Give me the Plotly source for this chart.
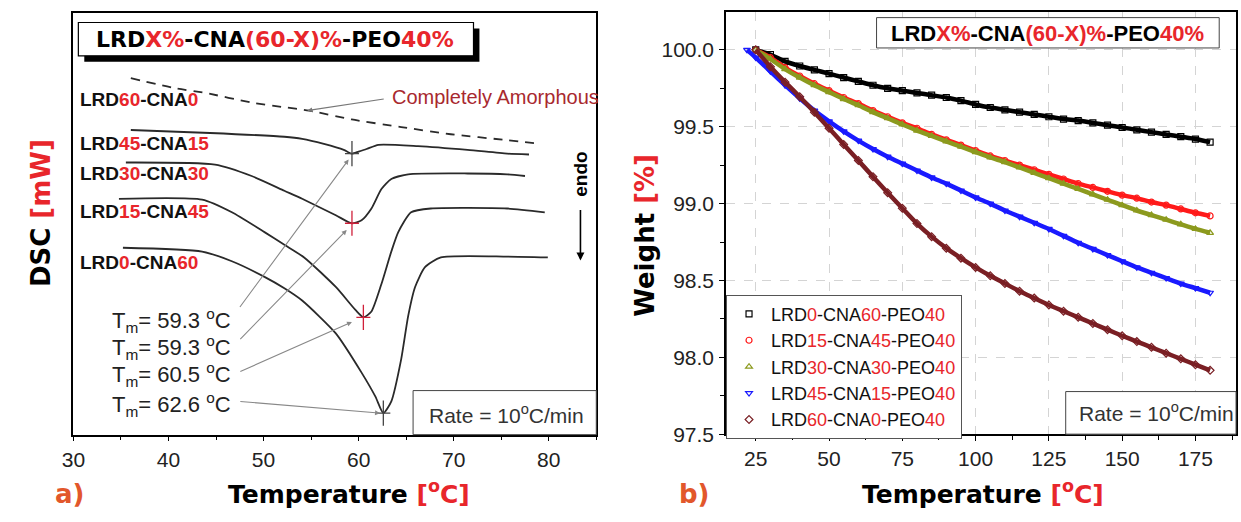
import plotly.graph_objects as go

W, H = 1241, 522
RED = "#e8262b"

# ---------------- DSC data (panel a) ----------------
dsc_names = ["LRD60-CNA0", "LRD45-CNA15", "LRD30-CNA30", "LRD15-CNA45", "LRD0-CNA60"]
dsc_lrd = [60, 45, 30, 15, 0]
dsc_cna = [0, 15, 30, 45, 60]

t_60_0 = [36.04, 40.73, 43.85, 48.75, 51.88, 54.79, 59.27, 64.48, 69.69, 75.63, 79.2]
h_60_0 = [8.45, 8.21, 8.10, 7.87, 7.77, 7.68, 7.47, 7.29, 7.12, 6.98, 6.89]

t_45_15 = [36.04, 44.38, 52.19, 54.06, 56.35, 58.44, 59.27, 60.0, 60.83, 62.08, 66.25, 71.46, 75.63, 77.92]
h_45_15 = [7.22, 7.15, 7.06, 7.01, 6.89, 6.75, 6.66, 6.71, 6.77, 6.87, 6.84, 6.75, 6.66, 6.64]

t_30_30 = [35.52, 44.90, 48.75, 52.19, 54.06, 57.60, 59.27, 60.31, 61.35, 62.40, 63.44, 65.21, 71.46, 75.63, 77.5]
h_30_30 = [6.45, 6.40, 6.13, 5.78, 5.59, 5.20, 5.01, 5.08, 5.36, 5.82, 6.06, 6.17, 6.19, 6.17, 6.13]

t_15_45 = [34.79, 43.54, 46.67, 50.10, 52.19, 54.27, 57.60, 59.69, 60.52, 61.35, 62.40, 63.44, 64.17, 65.52, 67.60, 75.63, 79.58]
h_15_45 = [5.59, 5.57, 5.27, 4.80, 4.50, 4.20, 3.50, 2.95, 2.78, 2.92, 3.57, 4.34, 4.80, 5.27, 5.36, 5.36, 5.27]

t_0_60 = [35.21, 43.54, 46.67, 50.10, 52.19, 54.06, 57.60, 60.31, 61.77, 62.60, 63.44, 64.48, 65.21, 65.94, 66.98, 68.65, 75.63, 79.90]
h_0_60 = [4.43, 4.34, 4.11, 3.74, 3.47, 3.18, 2.40, 1.47, 0.90, 0.51, 0.79, 1.79, 2.81, 3.50, 3.97, 4.20, 4.22, 4.20]

tm_values = [59.3, 59.3, 60.5, 62.6]
tm_peak = [6.66, 5.01, 2.78, 0.51]

# ---------------- TGA data (panel b) ----------------
tga_T = [25, 30, 35, 40, 45, 50, 55, 60, 65, 70, 75, 80, 85, 90, 95, 100,
         105, 110, 115, 120, 125, 130, 135, 140, 145, 150, 155, 160, 165, 170, 175, 180]
w_0_60 = [100.00, 99.97, 99.925, 99.895, 99.87, 99.845, 99.82, 99.795, 99.77, 99.75, 99.735, 99.72,
          99.705, 99.69, 99.67, 99.645, 99.625, 99.61, 99.595, 99.58, 99.565, 99.55, 99.54, 99.525,
          99.51, 99.495, 99.48, 99.465, 99.45, 99.435, 99.42, 99.40]
w_15_45 = [100.00, 99.95, 99.885, 99.83, 99.78, 99.735, 99.69, 99.65, 99.605, 99.565, 99.525, 99.49,
           99.45, 99.415, 99.38, 99.345, 99.31, 99.28, 99.25, 99.22, 99.19, 99.16, 99.13, 99.105,
           99.08, 99.055, 99.035, 99.01, 98.99, 98.965, 98.94, 98.92]
w_30_30 = [100.00, 99.94, 99.875, 99.82, 99.77, 99.725, 99.68, 99.64, 99.595, 99.555, 99.515, 99.475,
           99.44, 99.405, 99.37, 99.335, 99.30, 99.27, 99.235, 99.20, 99.165, 99.13, 99.095, 99.06,
           99.025, 98.99, 98.955, 98.925, 98.895, 98.865, 98.835, 98.81]
w_45_15 = [99.95, 99.86, 99.77, 99.685, 99.605, 99.535, 99.47, 99.41, 99.355, 99.305, 99.26, 99.215,
           99.17, 99.13, 99.085, 99.04, 99.00, 98.955, 98.915, 98.875, 98.835, 98.79, 98.745, 98.705,
           98.665, 98.625, 98.585, 98.55, 98.515, 98.48, 98.45, 98.42]
w_45_15_start_T = 22
w_45_15_start_W = 100.00
w_60_0 = [100.00, 99.89, 99.79, 99.695, 99.595, 99.49, 99.385, 99.28, 99.175, 99.07, 98.97, 98.87,
          98.785, 98.71, 98.645, 98.585, 98.53, 98.48, 98.43, 98.385, 98.34, 98.30, 98.26, 98.22,
          98.18, 98.14, 98.102, 98.065, 98.027, 97.99, 97.952, 97.915]

tga_lrd = [0, 15, 30, 45, 60]
tga_cna = [60, 45, 30, 15, 0]

# ---------------- figure ----------------
fig = go.Figure()

dsc_series = [(t_60_0, h_60_0), (t_45_15, h_45_15), (t_30_30, h_30_30), (t_15_45, h_15_45), (t_0_60, h_0_60)]
for i, (tx, hy) in enumerate(dsc_series):
    fig.add_trace(go.Scatter(
        x=tx, y=hy, mode="lines", xaxis="x", yaxis="y", showlegend=False,
        line=dict(color="#2a2a2a", width=1.8, shape="spline", smoothing=0.6,
                  dash="9px,7px" if i == 0 else "solid"),
        hoverinfo="skip"))

cross_colors = ["#444444", "#d0203a", "#d0203a", "#444444"]
fig.add_trace(go.Scatter(x=tm_values, y=tm_peak, mode="markers", xaxis="x", yaxis="y", showlegend=False,
                         marker=dict(symbol="line-ns", size=18, line=dict(color=cross_colors, width=1.3))))
fig.add_trace(go.Scatter(x=tm_values, y=tm_peak, mode="markers", xaxis="x", yaxis="y", showlegend=False,
                         marker=dict(symbol="line-ew", size=10, line=dict(color=cross_colors, width=1.3))))

tga_series = [w_0_60, w_15_45, w_30_30, w_45_15, w_60_0]
tga_colors = ["#000000", "#ff1a1a", "#8c9a1e", "#1a1aff", "#7a1f24"]
tga_symbols = ["square-open", "circle-open", "triangle-up-open", "triangle-down-open", "diamond-open"]
for i, wv in enumerate(tga_series):
    tx = list(tga_T)
    wy = list(wv)
    if i == 3:
        tx = [w_45_15_start_T] + tx
        wy = [w_45_15_start_W] + wy
    fig.add_trace(go.Scatter(x=tx, y=wy, mode="lines", xaxis="x2", yaxis="y2", showlegend=False,
                             line=dict(color=tga_colors[i], width=4.5, shape="spline", smoothing=0.5),
                             hoverinfo="skip"))
    name = (f"LRD<span style='color:{RED}'>{tga_lrd[i]}</span>-CNA<span style='color:{RED}'>{tga_cna[i]}</span>"
            f"-PEO<span style='color:{RED}'>40</span>")
    fig.add_trace(go.Scatter(x=tx, y=wy, mode="markers", xaxis="x2", yaxis="y2", name=name,
                             marker=dict(symbol=tga_symbols[i], size=6, color=tga_colors[i],
                                         line=dict(width=1.2, color=tga_colors[i]))))

def px_x(p):
    return p / W

def px_y(p):
    return 1 - p / H

tick_font = dict(family="Liberation Sans, Arial", size=21, color="#222")

fig.update_layout(
    width=W, height=H, autosize=False,
    margin=dict(l=0, r=0, t=0, b=0),
    paper_bgcolor="white", plot_bgcolor="white",
    xaxis=dict(domain=[px_x(62), px_x(590)], range=[30, 85], showgrid=False, zeroline=False,
               showline=True, linecolor="black", linewidth=1.6, mirror=True,
               ticks="outside", ticklen=5, tickwidth=1.3, tickcolor="black",
               tick0=30, dtick=10, tickfont=tick_font,
               minor=dict(ticks="outside", ticklen=4, dtick=5, tick0=30, tickcolor="black", tickwidth=1.1)),
    yaxis=dict(domain=[px_y(444), px_y(13)], range=[0, 10], showgrid=False, zeroline=False,
               showline=True, linecolor="black", linewidth=1.6, mirror=True,
               showticklabels=False, ticks=""),
    xaxis2=dict(domain=[px_x(721), px_x(1236)], range=[14.86, 188.85], anchor="y2",
                showgrid=True, gridcolor="#d4d4d4", griddash="dash", gridwidth=1, zeroline=False,
                showline=True, linecolor="black", linewidth=1.6, mirror=True,
                ticks="outside", ticklen=5, tickwidth=1.3, tickcolor="black",
                tick0=25, dtick=25, tickfont=tick_font,
                minor=dict(ticks="outside", ticklen=4, dtick=12.5, tick0=25, tickcolor="black", tickwidth=1.1)),
    yaxis2=dict(domain=[px_y(443.5), px_y(12)], range=[97.5, 100.248], anchor="x2",
                showgrid=True, gridcolor="#d4d4d4", griddash="dash", gridwidth=1, zeroline=False,
                showline=True, linecolor="black", linewidth=1.6, mirror=True,
                ticks="outside", ticklen=5, tickwidth=1.3, tickcolor="black",
                tick0=97.5, dtick=0.5, tickformat=".1f", tickfont=tick_font, ticklabelstandoff=1,
                minor=dict(ticks="outside", ticklen=4, dtick=0.25, tick0=97.5, tickcolor="black", tickwidth=1.1)),
    legend=dict(x=px_x(721), y=px_y(301), xanchor="left", yanchor="top",
                bgcolor="white", bordercolor="#555", borderwidth=1,
                font=dict(family="Liberation Sans, Arial", size=18, color="#111"),
                itemsizing="trace", itemwidth=34, tracegroupgap=0),
)

shapes = []
shapes.append(dict(type="rect", xref="paper", yref="paper", x0=px_x(73), x1=px_x(472), y0=px_y(63), y1=px_y(29),
                   fillcolor="black", line=dict(width=0), layer="above"))
shapes.append(dict(type="rect", xref="paper", yref="paper", x0=px_x(67), x1=px_x(466), y0=px_y(57), y1=px_y(23),
                   fillcolor="white", line=dict(color="black", width=1.2), layer="above"))
shapes.append(dict(type="rect", xref="paper", yref="paper", x0=px_x(873), x1=px_x(1219), y0=px_y(49), y1=px_y(18),
                   fillcolor="white", line=dict(color="#444", width=1), layer="above"))
shapes.append(dict(type="rect", xref="paper", yref="paper", x0=px_x(405), x1=px_x(590), y0=px_y(444), y1=px_y(399),
                   fillcolor="white", line=dict(color="#444", width=1), layer="above"))
shapes.append(dict(type="rect", xref="paper", yref="paper", x0=px_x(1064), x1=px_x(1236), y0=px_y(443.5), y1=px_y(400),
                   fillcolor="white", line=dict(color="#444", width=1), layer="above"))
fig.update_layout(shapes=shapes)

def red(s):
    return f"<span style='color:{RED}'>{s}</span>"

ann = []
title_txt = "<b>LRD" + red("X%") + "-CNA" + red("(60-X)%") + "-PEO" + red("40%") + "</b>"
ann.append(dict(text=title_txt, xref="paper", yref="paper", x=px_x(266), y=px_y(40), showarrow=False,
                xanchor="center", yanchor="middle",
                font=dict(family="DejaVu Sans", size=22, color="black")))
ann.append(dict(text=title_txt, xref="paper", yref="paper", x=px_x(1046), y=px_y(34), showarrow=False,
                xanchor="center", yanchor="middle",
                font=dict(family="Liberation Sans, Arial", size=22, color="black")))

rate_txt = "Rate = 10<sup>o</sup>C/min"
ann.append(dict(text=rate_txt, xref="paper", yref="paper", x=px_x(419), y=px_y(423), showarrow=False,
                xanchor="left", yanchor="middle", font=dict(family="Liberation Sans, Arial", size=21, color="#333")))
ann.append(dict(text=rate_txt, xref="paper", yref="paper", x=px_x(1075), y=px_y(421), showarrow=False,
                xanchor="left", yanchor="middle", font=dict(family="Liberation Sans, Arial", size=21, color="#333")))

ann.append(dict(text="<b>Temperature " + red("[<sup>o</sup>C]") + "</b>", xref="paper", yref="paper",
                x=px_x(340), y=px_y(503), showarrow=False, xanchor="center", yanchor="middle",
                font=dict(family="DejaVu Sans", size=25, color="black")))
ann.append(dict(text="<b>Temperature " + red("[<sup>o</sup>C]") + "</b>", xref="paper", yref="paper",
                x=px_x(980), y=px_y(503), showarrow=False, xanchor="center", yanchor="middle",
                font=dict(family="DejaVu Sans", size=25, color="black")))
ann.append(dict(text="<b>DSC " + red("[mW]") + "</b>", xref="paper", yref="paper",
                x=px_x(30), y=px_y(218), showarrow=False, textangle=-90, xanchor="center", yanchor="middle",
                font=dict(family="DejaVu Sans", size=26, color="black")))
ann.append(dict(text="<b>Weight " + red("[%]") + "</b>", xref="paper", yref="paper",
                x=px_x(639), y=px_y(240), showarrow=False, textangle=-90, xanchor="center", yanchor="middle",
                font=dict(family="DejaVu Sans", size=26, color="black")))
ann.append(dict(text="<b>a)</b>", xref="paper", yref="paper", x=px_x(58), y=px_y(505), showarrow=False,
                xanchor="center", yanchor="middle", font=dict(family="DejaVu Sans", size=26, color="#e2572b")))
ann.append(dict(text="<b>b)</b>", xref="paper", yref="paper", x=px_x(689), y=px_y(505), showarrow=False,
                xanchor="center", yanchor="middle", font=dict(family="DejaVu Sans", size=26, color="#e2572b")))

ann.append(dict(text="<b>endo</b>", xref="paper", yref="paper", x=px_x(574), y=px_y(178), showarrow=False,
                textangle=-90, xanchor="center", yanchor="middle",
                font=dict(family="Liberation Sans, Arial", size=19, color="black")))
ann.append(dict(text="", xref="paper", yref="paper", x=px_x(574), y=px_y(266), ax=0, ay=-52,
                showarrow=True, arrowhead=2, arrowsize=1, arrowwidth=1.6, arrowcolor="black"))

label_y = [7.94, 6.89, 6.19, 5.29, 4.08]
for i, nm in enumerate(dsc_names):
    txt = "<b>LRD" + red(dsc_lrd[i]) + "-CNA" + red(dsc_cna[i]) + "</b>"
    ann.append(dict(text=txt, xref="x", yref="y", x=30.5, y=label_y[i], showarrow=False,
                    xanchor="left", yanchor="middle",
                    font=dict(family="Liberation Sans, Arial", size=19, color="#111")))

ann.append(dict(text="Completely Amorphous", xref="x", yref="y", x=63.3, y=8.0, showarrow=False,
                xanchor="left", yanchor="middle",
                font=dict(family="Liberation Sans, Arial", size=20, color="#a8282e")))
ann.append(dict(text="", xref="x", yref="y", axref="x", ayref="y", x=54.6, y=7.68, ax=62.8, ay=7.96,
                showarrow=True, arrowhead=2, arrowsize=0.9, arrowwidth=1.1, arrowcolor="#777"))

tm_text_y = [2.71, 2.06, 1.42, 0.72]
tail_y = [2.99, 2.23, 1.48, 0.79]
head_dx = [-0.35, -0.55, -1.2, -0.35]
head_dy = [-0.14, -0.16, -0.11, 0.0]
for i, tm in enumerate(tm_values):
    ann.append(dict(text=f"T<sub>m</sub>= {tm:.1f} <sup>o</sup>C", xref="x", yref="y", x=33.9, y=tm_text_y[i],
                    showarrow=False, xanchor="left", yanchor="middle",
                    font=dict(family="Liberation Sans, Arial", size=22, color="#222")))
    ann.append(dict(text="", xref="x", yref="y", axref="x", ayref="y",
                    x=tm + head_dx[i], y=tm_peak[i] + head_dy[i], ax=47.4, ay=tail_y[i],
                    showarrow=True, arrowhead=2, arrowsize=0.9, arrowwidth=1.1, arrowcolor="#888"))

fig.update_layout(annotations=ann)
fig.write_html("out.html")
